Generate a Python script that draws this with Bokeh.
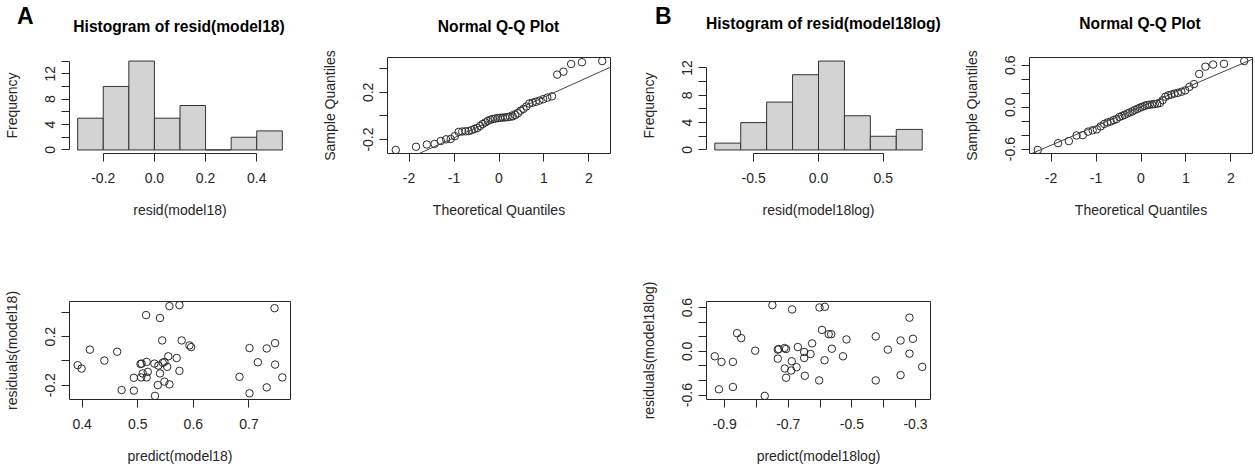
import math
from bokeh.plotting import figure
from bokeh.models import (FixedTicker, PrintfTickFormatter, Range1d, Slope,
                          GridBox, Div)
from bokeh.embed import file_html
from bokeh.resources import INLINE

FONT = "Liberation Sans"
INK = "#262626"

# ---------------- data ----------------
histA_edges = [-0.3, -0.2, -0.1, 0.0, 0.1, 0.2, 0.3, 0.4, 0.5]
histA_counts = [5, 10, 14, 5, 7, 0, 2, 3]
histB_edges = [-0.8, -0.6, -0.4, -0.2, 0.0, 0.2, 0.4, 0.6, 0.8]
histB_counts = [1, 4, 7, 11, 13, 5, 2, 3]

theo_q = [-2.295, -1.844, -1.604, -1.432, -1.294, -1.177, -1.074, -0.982, -0.897, -0.818,
          -0.745, -0.674, -0.607, -0.544, -0.481, -0.421, -0.362, -0.304, -0.247, -0.191,
          -0.137, -0.082, -0.027, 0.027, 0.082, 0.137, 0.191, 0.247, 0.304, 0.362,
          0.421, 0.481, 0.544, 0.607, 0.674, 0.745, 0.818, 0.897, 0.982, 1.074,
          1.177, 1.294, 1.432, 1.604, 1.844, 2.295]
qqA_sample = [-0.288, -0.261, -0.242, -0.237, -0.212, -0.198, -0.195, -0.171, -0.135, -0.132,
              -0.130, -0.128, -0.120, -0.110, -0.102, -0.085, -0.068, -0.055, -0.042, -0.032,
              -0.026, -0.022, -0.018, -0.016, -0.014, -0.012, -0.010, -0.007, -0.003, 0.008,
              0.022, 0.045, 0.060, 0.080, 0.105, 0.112, 0.120, 0.130, 0.142, 0.155,
              0.166, 0.350, 0.375, 0.440, 0.455, 0.465]
qqB_sample = [-0.612, -0.515, -0.485, -0.405, -0.400, -0.350, -0.330, -0.318, -0.275, -0.240,
              -0.220, -0.205, -0.185, -0.170, -0.140, -0.125, -0.110, -0.090, -0.075, -0.060,
              -0.040, -0.025, -0.008, 0.005, 0.020, 0.030, 0.035, 0.040, 0.045, 0.050,
              0.060, 0.100, 0.150, 0.170, 0.180, 0.195, 0.205, 0.220, 0.240, 0.290,
              0.330, 0.475, 0.580, 0.610, 0.620, 0.660]
qqA_line_intercept, qqA_line_slope = -0.013, 0.172
qqB_line_intercept, qqB_line_slope = 0.005, 0.275

predA = [0.392, 0.399, 0.414, 0.440, 0.463, 0.471, 0.493, 0.493, 0.506, 0.507,
         0.509, 0.515, 0.516, 0.516, 0.518, 0.530, 0.531, 0.536, 0.537, 0.540,
         0.540, 0.544, 0.548, 0.548, 0.553, 0.555, 0.557, 0.557, 0.570, 0.575,
         0.575, 0.579, 0.593, 0.596, 0.683, 0.701, 0.701, 0.716, 0.732, 0.732,
         0.746, 0.747, 0.747, 0.760, 0.505, 0.545]
residA = [-0.035, -0.063, 0.093, 0.003, 0.076, -0.240, -0.139, -0.245, -0.136, -0.022,
          -0.103, 0.378, -0.008, -0.136, -0.090, -0.022, -0.288, -0.199, -0.038, 0.354,
          -0.103, 0.169, -0.008, -0.171, -0.049, 0.038, -0.193, 0.452, 0.024, -0.082,
          0.460, 0.169, 0.128, 0.114, -0.131, 0.106, -0.267, -0.011, 0.103, -0.218,
          0.435, 0.147, -0.030, -0.136, -0.025, -0.015]
predB = [-0.931, -0.918, -0.910, -0.874, -0.874, -0.861, -0.848, -0.804, -0.774, -0.750,
         -0.733, -0.733, -0.730, -0.712, -0.707, -0.711, -0.707, -0.691, -0.689, -0.688,
         -0.674, -0.670, -0.650, -0.650, -0.648, -0.630, -0.625, -0.603, -0.602, -0.586,
         -0.585, -0.594, -0.573, -0.565, -0.563, -0.528, -0.517, -0.425, -0.425, -0.387,
         -0.347, -0.347, -0.319, -0.319, -0.308, -0.279]
residB = [-0.068, -0.521, -0.145, -0.489, -0.145, 0.249, 0.181, 0.009, -0.611, 0.634,
          0.023, -0.100, 0.032, 0.045, 0.032, -0.235, -0.362, -0.263, -0.136, 0.575,
          -0.217, 0.059, -0.009, -0.091, -0.335, -0.036, 0.109, -0.399, 0.602, -0.122,
          0.611, 0.294, 0.235, 0.235, 0.036, -0.068, 0.163, 0.205, -0.399, 0.023,
          0.149, -0.326, 0.462, -0.032, 0.172, -0.213]

# ticks (labelled / unlabelled)
histA_xticks = [-0.2, 0.0, 0.2, 0.4]
histA_yticks, histA_yminor = [0, 4, 8, 12], [2, 6, 10, 14]
histB_xticks = [-0.5, 0.0, 0.5]
histB_yticks, histB_yminor = [0, 4, 8, 12], [2, 6, 10]
qq_xticks = [-2, -1, 0, 1, 2]
qqA_yticks, qqA_yminor = [-0.2, 0.2], [0.0, 0.4]
qqB_yticks, qqB_yminor = [-0.6, 0.0, 0.6], [-0.4, -0.2, 0.2, 0.4]
scA_xticks = [0.4, 0.5, 0.6, 0.7]
scA_yticks, scA_yminor = [-0.2, 0.2], [0.0, 0.4]
scB_xticks, scB_xminor = [-0.9, -0.7, -0.5, -0.3], [-0.8, -0.6, -0.4]
scB_yticks, scB_yminor = [-0.6, 0.0, 0.6], [-0.4, -0.2, 0.2, 0.4]


def r_range(vals):
    lo, hi = min(vals), max(vals)
    d = (hi - lo) * 0.04
    return Range1d(lo - d, hi + d)


def style_axis(ax, ticks, minor, fmt, is_y):
    ax.ticker = FixedTicker(ticks=ticks, minor_ticks=minor)
    ax.formatter = PrintfTickFormatter(format=fmt)
    ax.major_tick_in = 0
    ax.major_tick_out = 8
    ax.minor_tick_in = 0
    ax.minor_tick_out = 8
    ax.major_tick_line_color = INK
    ax.minor_tick_line_color = INK
    ax.axis_line_color = INK
    ax.major_label_text_font = FONT
    ax.major_label_text_font_size = "14px"
    ax.major_label_text_color = INK
    ax.axis_label_text_font = FONT
    ax.axis_label_text_font_size = "14px"
    ax.axis_label_text_font_style = "normal"
    ax.axis_label_text_color = INK
    if is_y:
        ax.major_label_orientation = "vertical"
        ax.major_label_standoff = 6
        ax.axis_label_standoff = 23
    else:
        ax.major_label_standoff = 11
        ax.axis_label_standoff = 16


def make_fig(w, h, l, r, t, b, xr, yr, xlab, ylab, boxed,
             xt, xm, xf, yt, ym, yf):
    p = figure(width=w, height=h, x_range=xr, y_range=yr,
               output_backend="svg", toolbar_location=None,
               min_border_left=l, min_border_right=r,
               min_border_top=t, min_border_bottom=b)
    p.background_fill_color = "white"
    p.border_fill_color = "white"
    p.xgrid.visible = False
    p.ygrid.visible = False
    p.outline_line_color = INK if boxed else None
    p.xaxis.axis_label = xlab
    p.yaxis.axis_label = ylab
    style_axis(p.xaxis[0], xt, xm, xf, False)
    style_axis(p.yaxis[0], yt, ym, yf, True)
    if boxed:
        p.xaxis.axis_line_color = None
        p.yaxis.axis_line_color = None
    return p


def add_hist(p, edges, counts, xt, yt, ym):
    p.quad(left=edges[:-1], right=edges[1:], bottom=0, top=counts,
           fill_color="#D3D3D3", line_color="#333333", line_width=1)
    p.xaxis.bounds = (min(xt), max(xt))
    p.yaxis.bounds = (0, max(yt + ym))


def add_points(p, xs, ys):
    p.scatter(xs, ys, size=7.5, marker="circle", fill_color=None,
              line_color="#2b2b2b", line_width=1)


def panel_letter(letter, left):
    return Div(text=letter, width=30, height=30, margin=(5, 0, 0, left),
               styles={"font-family": FONT, "font-size": "23px",
                       "font-weight": "bold", "color": "black",
                       "line-height": "1"})


def panel_title(text, top, left, width):
    return Div(text=text, width=width, height=20, margin=(top, 0, 0, left),
               styles={"font-family": FONT, "font-size": "15.6px",
                       "font-weight": "bold", "color": "black",
                       "line-height": "1", "text-align": "center",
                       "white-space": "nowrap"})


# ---- row 1 ----
hA = make_fig(300, 250, 68, 10, 57, 95,
              r_range(histA_edges), r_range([0] + histA_counts),
              "resid(model18)", "Frequency", False,
              histA_xticks, [], "%.1f", histA_yticks, histA_yminor, "%d")
add_hist(hA, histA_edges, histA_counts, histA_xticks, histA_yticks, histA_yminor)

qA = make_fig(330, 250, 87, 20, 57, 95,
              r_range(theo_q), r_range(qqA_sample),
              "Theoretical Quantiles", "Sample Quantiles", True,
              qq_xticks, [], "%d", qqA_yticks, qqA_yminor, "%.1f")
add_points(qA, theo_q, qqA_sample)
qA.add_layout(Slope(gradient=qqA_line_slope, y_intercept=qqA_line_intercept,
                    line_color="#444444", line_width=1))

hB = make_fig(330, 250, 76, 30, 54, 96,
              r_range(histB_edges), r_range([0] + histB_counts),
              "resid(model18log)", "Frequency", False,
              histB_xticks, [], "%.1f", histB_yticks, histB_yminor, "%d")
add_hist(hB, histB_edges, histB_counts, histB_xticks, histB_yticks, histB_yminor)

qB = make_fig(295, 250, 68, 3, 53, 97,
              r_range(theo_q), r_range(qqB_sample),
              "Theoretical Quantiles", "Sample Quantiles", True,
              qq_xticks, [], "%d", qqB_yticks, qqB_yminor, "%.1f")
add_points(qB, theo_q, qqB_sample)
qB.add_layout(Slope(gradient=qqB_line_slope, y_intercept=qqB_line_intercept,
                    line_color="#444444", line_width=1))

# ---- row 2 ----
sA = make_fig(300, 218, 68, 8, 51, 69,
              r_range(predA), r_range(residA),
              "predict(model18)", "residuals(model18)", True,
              scA_xticks, [], "%.1f", scA_yticks, scA_yminor, "%.1f")
add_points(sA, predA, residA)

sB = make_fig(330, 218, 76, 30, 49, 69,
              r_range(predB), r_range(residB),
              "predict(model18log)", "residuals(model18log)", True,
              scB_xticks, scB_xminor, "%.1f", scB_yticks, scB_yminor, "%.1f")
add_points(sB, predB, residB)

divA = panel_letter("A", 17)
divB = panel_letter("B", 25)
tA1 = panel_title("Histogram of resid(model18)", 19, 68, 222)
tA2 = panel_title("Normal Q-Q Plot", 19, 87, 223)
tB1 = panel_title("Histogram of resid(model18log)", 16, 76, 224)
tB2 = panel_title("Normal Q-Q Plot", 16, 68, 224)

layout = GridBox(children=[
    (hA, 0, 0), (qA, 0, 1), (hB, 0, 2), (qB, 0, 3),
    (sA, 1, 0), (sB, 1, 2),
    (divA, 0, 0), (divB, 0, 2),
    (tA1, 0, 0), (tA2, 0, 1), (tB1, 0, 2), (tB2, 0, 3),
], spacing=0)

open("out.html", "w").write(file_html(layout, INLINE))
